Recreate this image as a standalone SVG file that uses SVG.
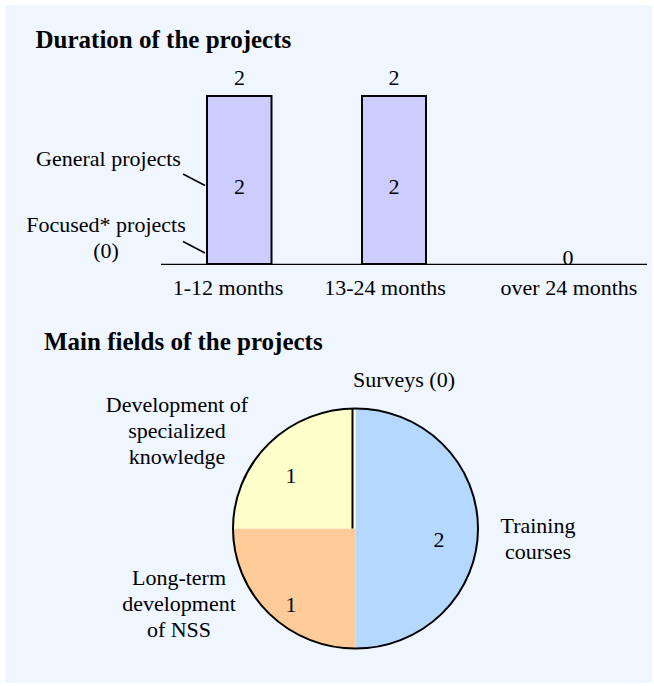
<svg xmlns="http://www.w3.org/2000/svg" width="654" height="686" viewBox="0 0 654 686">
<style>
text{font-family:'Liberation Serif','DejaVu Serif',serif;fill:#000;}
.t{font-size:25px;font-weight:bold;}
.l{font-size:22px;}
.m{text-anchor:middle;}
.bar{fill:#CCCCFF;stroke:#000;stroke-width:2;}
.ln{stroke:#000;fill:none;}
</style>
<rect x="5" y="5" width="647" height="678" fill="#EFF6FF"/>
<g id="chart-duration" font-family="Liberation Serif, DejaVu Serif, serif">
<text class="t" x="35.5" y="48">Duration of the projects</text>
<g id="bar-1-12">
<rect class="bar" x="207" y="96" width="64.5" height="168"/>
<text class="l m" x="239.5" y="85">2</text>
<text class="l m" x="239.5" y="194">2</text>
<text class="l m" x="228" y="295">1-12 months</text>
</g>
<g id="bar-13-24">
<rect class="bar" x="362" y="96" width="64" height="168"/>
<text class="l m" x="394" y="85">2</text>
<text class="l m" x="394" y="194">2</text>
<text class="l m" x="385" y="295">13-24 months</text>
</g>
<g id="bar-over-24">
<text class="l m" x="568" y="265">0</text>
<text class="l m" x="569" y="295">over 24 months</text>
</g>
<line class="ln" x1="161" y1="264.3" x2="647" y2="264.3" stroke-width="1.2"/>
<g id="legend">
<text class="l m" x="108.5" y="166">General projects</text>
<text class="l m" x="106" y="232">Focused* projects</text>
<text class="l m" x="106" y="258">(0)</text>
</g>
<g id="connectors">
<line class="ln" x1="183" y1="174" x2="205" y2="185.5" stroke-width="1.5"/>
<line class="ln" x1="183" y1="241.5" x2="205" y2="253" stroke-width="1.5"/>
</g>
</g>
<g id="chart-fields" font-family="Liberation Serif, DejaVu Serif, serif">
<text class="t" x="44" y="350">Main fields of the projects</text>
<g id="slice-training">
<path d="M355.5 528.5 L355.5 408.5 A122.5 120 0 0 1 355.5 648.5 Z" fill="#B4D8FF"/>
<text class="l m" x="439" y="547">2</text>
<text class="l m" x="538" y="533">Training</text>
<text class="l m" x="538" y="559">courses</text>
</g>
<g id="slice-nss">
<path d="M355.5 528.5 L355.5 648.5 A122.5 120 0 0 1 233 528.5 Z" fill="#FFCC99"/>
<text class="l m" x="291" y="612">1</text>
<text class="l m" x="179" y="585">Long-term</text>
<text class="l m" x="179" y="611">development</text>
<text class="l m" x="179" y="637">of NSS</text>
</g>
<g id="slice-knowledge">
<path d="M355.5 528.5 L233 528.5 A122.5 120 0 0 1 355.5 408.5 Z" fill="#FFFFCC"/>
<text class="l m" x="291" y="483">1</text>
<text class="l m" x="177" y="412">Development of</text>
<text class="l m" x="177" y="438">specialized</text>
<text class="l m" x="177" y="464">knowledge</text>
</g>
<g id="slice-surveys">
<line class="ln" x1="352.5" y1="408.5" x2="352.5" y2="528.5" stroke-width="2"/>
<text class="l m" x="404" y="387">Surveys (0)</text>
</g>
<ellipse cx="355.5" cy="528.5" rx="122.5" ry="120" fill="none" stroke="#000" stroke-width="2"/>
</g>
</svg>
